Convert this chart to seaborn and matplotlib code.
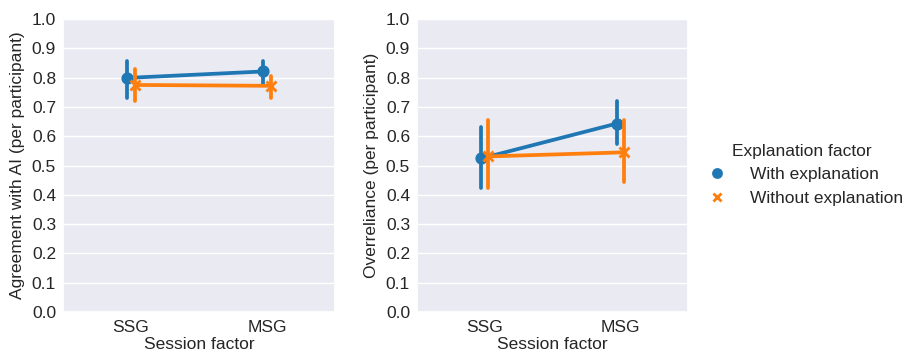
import seaborn as sns
import matplotlib.pyplot as plt
import pandas as pd

sessions = ['SSG', 'MSG']
groups = ['With explanation', 'Without explanation']

# point estimate, lower CI, upper CI per (group, session)
agree_pt = {'With explanation': [0.799, 0.821], 'Without explanation': [0.775, 0.772]}
agree_lo = {'With explanation': [0.732, 0.776], 'Without explanation': [0.721, 0.731]}
agree_hi = {'With explanation': [0.855, 0.858], 'Without explanation': [0.830, 0.807]}

over_pt = {'With explanation': [0.524, 0.643], 'Without explanation': [0.531, 0.545]}
over_lo = {'With explanation': [0.423, 0.575], 'Without explanation': [0.423, 0.443]}
over_hi = {'With explanation': [0.632, 0.719], 'Without explanation': [0.657, 0.657]}


def build(pt, lo, hi, col):
    rows = []
    for g in groups:
        for i, s in enumerate(sessions):
            for v in (lo[g][i], pt[g][i], hi[g][i]):
                rows.append({'Session factor': s, 'Explanation factor': g, col: v})
    return pd.DataFrame(rows)


df_a = build(agree_pt, agree_lo, agree_hi, 'Agreement with AI (per participant)')
df_o = build(over_pt, over_lo, over_hi, 'Overreliance (per participant)')

sns.set_theme(style='darkgrid')
plt.rcParams['font.family'] = ['Liberation Sans', 'DejaVu Sans']
fs = 12.5

fig = plt.figure(figsize=(9.04, 3.54), dpi=100)
ax1 = fig.add_axes([0.0697, 0.1186, 0.301, 0.8277])
ax2 = fig.add_axes([0.4613, 0.1186, 0.2998, 0.8277])

for ax, df, col in [(ax1, df_a, 'Agreement with AI (per participant)'),
                    (ax2, df_o, 'Overreliance (per participant)')]:
    sns.pointplot(data=df, x='Session factor', y=col, hue='Explanation factor',
                  order=sessions, hue_order=groups, estimator='median',
                  errorbar=('pi', 100), markers=['o', 'x'], dodge=0.055,
                  palette=['#1f77b4', '#ff7f0e'], ax=ax)
    ax.set_ylim(0, 1.0)
    ax.set_yticks([i / 10 for i in range(11)])
    ax.set_xlim(-0.5, 1.5)
    ax.tick_params(axis='x', labelsize=fs, length=0, pad=6)
    ax.tick_params(axis='y', labelsize=fs, length=0, pad=5)
    ax.set_xlabel('Session factor', fontsize=fs, labelpad=1)
    ax.set_ylabel(col, fontsize=fs, labelpad=5)
    handles, labels = ax.get_legend_handles_labels()
    ax.get_legend().remove()

leg = fig.legend(handles, labels, title='Explanation factor', loc='center left',
                 bbox_to_anchor=(0.757, 0.506), frameon=False, fontsize=fs,
                 title_fontsize=fs, handletextpad=0.9, labelspacing=0.5,
                 markerscale=0.85)
for h in leg.legend_handles:
    h.set_linestyle('')

fig.savefig('out.png', dpi=100)
